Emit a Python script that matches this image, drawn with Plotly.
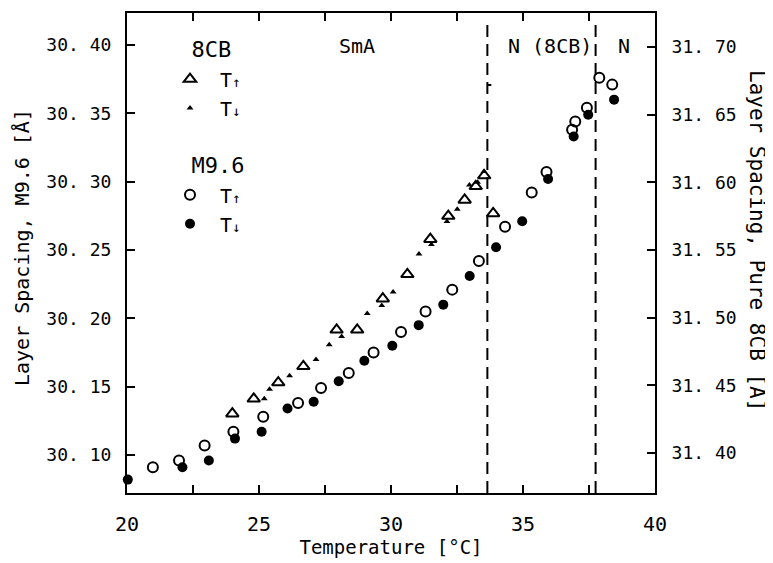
import plotly.graph_objects as go

# ---- data ----
T_8cb_up = [23.99, 24.80, 25.73, 26.68, 27.94, 28.72, 29.69, 30.62, 31.49, 32.17, 32.79, 33.21, 33.53, 33.87]
d_8cb_up = [31.429, 31.440, 31.452, 31.464, 31.491, 31.491, 31.514, 31.532, 31.558, 31.575, 31.587, 31.597, 31.605, 31.577]

T_8cb_down = [25.20, 25.40, 26.16, 27.16, 27.66, 28.13, 29.10, 29.65, 30.08, 31.06, 31.53, 32.12, 32.51, 32.97, 33.28, 33.52]
d_8cb_down = [31.440, 31.447, 31.457, 31.469, 31.480, 31.486, 31.503, 31.509, 31.519, 31.547, 31.554, 31.571, 31.580, 31.598, 31.600, 31.608]

T_m96_up = [20.98, 21.97, 22.94, 24.03, 25.16, 26.48, 27.35, 28.40, 29.34, 30.38, 31.31, 32.32, 33.33, 34.32, 35.33, 35.89, 36.86, 36.98, 37.42, 37.89, 38.38]
d_m96_up = [30.091, 30.096, 30.107, 30.117, 30.128, 30.138, 30.149, 30.160, 30.175, 30.190, 30.205, 30.221, 30.242, 30.267, 30.292, 30.307, 30.338, 30.344, 30.354, 30.376, 30.371]

T_m96_down = [20.03, 22.10, 23.10, 24.09, 25.10, 26.08, 27.07, 28.02, 28.99, 30.05, 31.05, 31.98, 32.98, 33.98, 34.97, 35.95, 36.92, 37.47, 38.45]
d_m96_down = [30.082, 30.091, 30.096, 30.112, 30.117, 30.134, 30.139, 30.154, 30.169, 30.180, 30.195, 30.210, 30.231, 30.252, 30.271, 30.302, 30.333, 30.349, 30.360]

transition_temps = [33.65, 37.75]

x_ticks = [20, 25, 30, 35, 40]
x_ticklabels = ["20", "25", "30", "35", "40"]
y_left_ticks = [30.10, 30.15, 30.20, 30.25, 30.30, 30.35, 30.40]
y_left_labels = ["30. 10", "30. 15", "30. 20", "30. 25", "30. 30", "30. 35", "30. 40"]
y_right_ticks = [31.40, 31.45, 31.50, 31.55, 31.60, 31.65, 31.70]
y_right_labels = ["31. 40", "31. 45", "31. 50", "31. 55", "31. 60", "31. 65", "31. 70"]

region_labels = ["SmA", "N (8CB)", "N"]

FONT = "DejaVu Sans Mono"
BLK = "#000000"
up = "T<span style='font-size:14px'>↑</span>"
down = "T<span style='font-size:14px'>↓</span>"
NB = "\u00a0"

# page body has an 8px margin: lay out in window pixels
OFF = 8
W, H = 773, 563
PL, PR, PT, PB = 127, 655, 13, 493          # plot box in window pixels
L = PL - OFF
T = PT - OFF
R = W - (PR - OFF)
B = H - (PB - OFF)
pw = PR - PL
ph = PB - PT

def px(xw):
    return (xw - PL) / pw

def py(yw):
    return (PB - yw) / ph

fig = go.Figure()
fig.add_trace(go.Scatter(
    x=T_8cb_up, y=d_8cb_up, yaxis="y2", mode="markers", name=up,
    legendgroup="8cb", legendgrouptitle=dict(text=NB * 2 + "8CB", font=dict(family=FONT, size=22, color=BLK)),
    marker=dict(symbol="triangle-up-open", size=11, color=BLK, line=dict(width=2, color=BLK)),
    cliponaxis=False))
fig.add_trace(go.Scatter(
    x=T_8cb_down, y=d_8cb_down, yaxis="y2", mode="markers", name=down,
    legendgroup="8cb",
    marker=dict(symbol="triangle-up", size=6, color=BLK),
    cliponaxis=False))
fig.add_trace(go.Scatter(
    x=T_m96_up, y=d_m96_up, mode="markers", name=up,
    legendgroup="m96", legendgrouptitle=dict(text=NB * 2 + "M9.6", font=dict(family=FONT, size=22, color=BLK)),
    marker=dict(symbol="circle-open", size=10, color=BLK, line=dict(width=2, color=BLK)),
    cliponaxis=False))
fig.add_trace(go.Scatter(
    x=T_m96_down, y=d_m96_down, mode="markers", name=down,
    legendgroup="m96",
    marker=dict(symbol="circle", size=10, color=BLK),
    cliponaxis=False))

for t in transition_temps:
    fig.add_shape(type="line", xref="x", yref="paper", x0=t, x1=t, y0=0, y1=0.985,
                  line=dict(color=BLK, width=2, dash="12px,7px"))
# small foot drawn on the first transition line in the original
fig.add_shape(type="line", xref="x", yref="paper", x0=transition_temps[0], x1=transition_temps[0] + 0.15,
              y0=py(85), y1=py(85), line=dict(color=BLK, width=2))

for txt, xc in zip(region_labels, [357, 550, 624]):
    fig.add_annotation(text=txt, x=px(xc), y=py(46), xref="paper", yref="paper",
                       xanchor="center", yanchor="middle",
                       showarrow=False, font=dict(family=FONT, size=20, color=BLK))

fig.add_annotation(text="Layer Spacing, M9.6 [Å]", x=px(22), y=py(248), xref="paper", yref="paper",
                   xanchor="center", yanchor="middle",
                   showarrow=False, textangle=-90, font=dict(family=FONT, size=20, color=BLK))
fig.add_annotation(text="Layer Spacing, Pure 8CB [Å]", x=px(758), y=py(240), xref="paper", yref="paper",
                   xanchor="center", yanchor="middle",
                   showarrow=False, textangle=90, font=dict(family=FONT, size=21, color=BLK))

axis_common = dict(showline=True, linecolor=BLK, linewidth=2, ticks="inside", ticklen=8,
                   tickwidth=2, tickcolor=BLK, showgrid=False, zeroline=False, automargin=False)

fig.update_layout(
    width=W, height=H,
    margin=dict(l=L, r=R, t=T, b=B, autoexpand=False),
    paper_bgcolor="white", plot_bgcolor="white",
    font=dict(family=FONT, size=18, color=BLK),
    showlegend=True,
    legend=dict(x=px(160), y=py(28), xanchor="left", yanchor="top", itemwidth=50,
                bgcolor="rgba(0,0,0,0)", font=dict(family=FONT, size=20, color=BLK),
                tracegroupgap=26, traceorder="grouped"),
    xaxis=dict(range=[20, 40], tickvals=x_ticks, ticktext=x_ticklabels, mirror="allticks",
               minor=dict(dtick=2.5, tick0=20, ticks="inside", ticklen=8, tickwidth=2, tickcolor=BLK),
               title=dict(text="Temperature [°C]", font=dict(family=FONT, size=19, color=BLK), standoff=4),
               tickfont=dict(family=FONT, size=20, color=BLK),
               ticklabelstandoff=12, **axis_common),
    yaxis=dict(range=[30.0722, 30.4234], tickvals=y_left_ticks, ticktext=y_left_labels,
               tickfont=dict(family=FONT, size=18, color=BLK),
               ticklabelstandoff=10, **axis_common),
    yaxis2=dict(range=[31.3704, 31.7251], tickvals=y_right_ticks, ticktext=y_right_labels,
                tickfont=dict(family=FONT, size=18, color=BLK),
                overlaying="y", side="right", ticklabelstandoff=11, **axis_common),
)

fig.write_html("out.html")
